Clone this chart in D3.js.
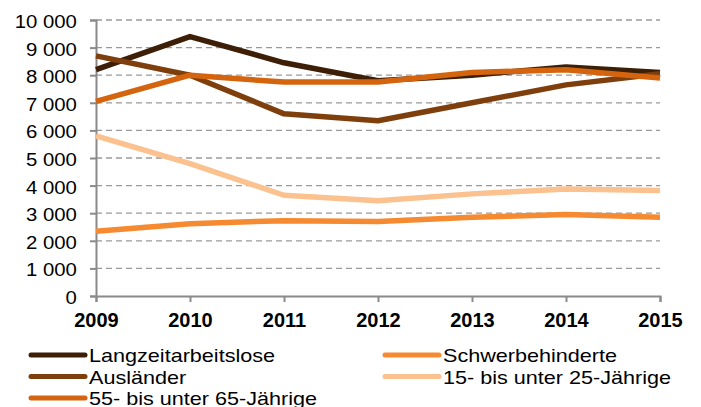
<!DOCTYPE html>
<html>
<head>
<meta charset="utf-8">
<script src="https://cdn.jsdelivr.net/npm/d3@7"></script>
<style>
  body { margin: 0; background: #fff; }
  svg { font-family: "Liberation Sans", Arial, sans-serif; }
</style>
</head>
<body>
<div id="chart"></div>
<script>
var years = [2009, 2010, 2011, 2012, 2013, 2014, 2015];
var yTicks = [0, 1000, 2000, 3000, 4000, 5000, 6000, 7000, 8000, 9000, 10000];

var langzeit = [8200, 9400, 8450, 7800, 8000, 8300, 8100];
var auslaender = [8700, 8000, 6600, 6350, 7000, 7650, 8050];
var aeltere = [7050, 8000, 7750, 7750, 8100, 8200, 7900];
var schwerb = [2350, 2620, 2730, 2700, 2850, 2950, 2850];
var juengere = [5800, 4800, 3650, 3450, 3700, 3880, 3820];

var seriesNames = ["Langzeitarbeitslose", "Ausländer", "55- bis unter 65-Jährige", "Schwerbehinderte", "15- bis unter 25-Jährige"];
var seriesValues = [langzeit, auslaender, aeltere, schwerb, juengere];
var seriesColors = ["#3d1f08", "#7f3f0c", "#d4640e", "#f58a31", "#fbc18f"];

var width = 701, height = 407;
var svg = d3.select("#chart").append("svg")
  .attr("width", width)
  .attr("height", height);

var x = d3.scalePoint().domain(years).range([96, 660]);
var y = d3.scaleLinear().domain([0, 10000]).range([296, 20]);

var fmt = function (d) { return d3.format(",")(d).replace(/,/g, " "); };

// gridlines
svg.append("g").selectAll("line")
  .data(yTicks.filter(function (d) { return d > 0; }))
  .enter().append("line")
  .attr("x1", 96).attr("x2", 660)
  .attr("y1", function (d) { return y(d); })
  .attr("y2", function (d) { return y(d); })
  .attr("stroke", "#9a9a9a")
  .attr("stroke-width", 1.3)
  .attr("stroke-dasharray", "6,4");

// y axis
var yAxis = svg.append("g")
  .attr("transform", "translate(96,0)")
  .call(d3.axisLeft(y).tickValues(yTicks).tickFormat(fmt).tickSizeOuter(0).tickSize(6));
yAxis.select(".domain").attr("stroke", "#8a8a8a").attr("stroke-width", 2);
yAxis.selectAll(".tick line").attr("stroke", "#8a8a8a").attr("stroke-width", 2);
yAxis.selectAll("text")
  .attr("font-size", 18).attr("fill", "#000")
  .attr("font-family", "Liberation Sans, Arial, sans-serif")
  .attr("x", -17).attr("dy", "0.42em")
  .attr("transform", "scale(1.13,1)");

// x axis
var xAxis = svg.append("g")
  .attr("transform", "translate(0,296)")
  .call(d3.axisBottom(x).tickSizeOuter(0).tickSize(6).tickPadding(11));
xAxis.select(".domain").attr("stroke", "#8a8a8a").attr("stroke-width", 2);
xAxis.selectAll(".tick line").attr("stroke", "#8a8a8a").attr("stroke-width", 2);
xAxis.selectAll("text").attr("font-size", 20).attr("font-weight", "bold").attr("fill", "#000")
  .attr("font-family", "Liberation Sans, Arial, sans-serif");

// lines
var line = d3.line()
  .x(function (d, i) { return x(years[i]); })
  .y(function (d) { return y(d); });

var drawOrder = [4, 3, 0, 1, 2];
drawOrder.forEach(function (k) {
  svg.append("path")
    .attr("d", line(seriesValues[k]))
    .attr("fill", "none")
    .attr("stroke", seriesColors[k])
    .attr("stroke-width", 5.5)
    .attr("stroke-linejoin", "round");
});

// legend
var legendPos = [
  { x: 31, y: 355 }, { x: 31, y: 376.5 }, { x: 31, y: 398 },
  { x: 385, y: 355 }, { x: 385, y: 376.5 }
];
var legend = svg.append("g");
seriesNames.forEach(function (name, i) {
  var p = legendPos[i];
  legend.append("line")
    .attr("x1", p.x).attr("x2", p.x + 54)
    .attr("y1", p.y).attr("y2", p.y)
    .attr("stroke", seriesColors[i])
    .attr("stroke-width", 5)
    .attr("stroke-linecap", "round");
  legend.append("text")
    .attr("transform", "translate(" + (p.x + 58) + "," + (p.y + 7) + ") scale(1.2,1)")
    .attr("font-size", 18)
    .text(name);
});
</script>
</body>
</html>
